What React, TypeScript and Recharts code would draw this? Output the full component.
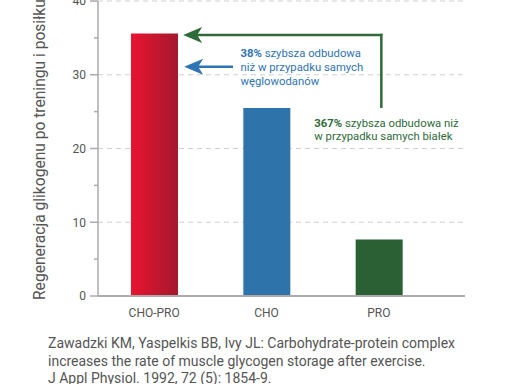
import React from 'react';
import { BarChart, Bar, XAxis, YAxis, CartesianGrid, Cell, ReferenceLine, Label } from 'recharts';

const categories = ['CHO-PRO', 'CHO', 'PRO'];
const values = [35.6, 25.5, 7.65];
const barColors = ['url(#choProGrad)', '#2e73aa', '#2a6034'];
const yTicks = [0, 5, 10, 15, 20, 25, 30, 35, 40];
const gridValues = [10, 20, 30, 40];
const greenArrowY = 35.4;
const greenArrowBottom = 25.5;
const blueArrowY = 31.1;
const blueText = [
  ['38%', ' szybsza odbudowa'],
  ['', 'niż w przypadku samych'],
  ['', 'węglowodanów'],
];
const greenText = [
  ['367%', ' szybsza odbudowa niż'],
  ['', 'w przypadku samych białek'],
];
const yLabel = 'Regeneracja glikogenu po treningu i posiłku (μmol/g/h)';
const citation = [
  'Zawadzki KM, Yaspelkis BB, Ivy JL: Carbohydrate-protein complex',
  'increases the rate of muscle glycogen storage after exercise.',
  'J Appl Physiol. 1992, 72 (5): 1854-9.',
];

const data = categories.map((c, i) => ({ name: c, value: values[i] }));

const GREEN = '#2e6b39';
const BLUE = '#2f74b3';
const AXIS = '#ababab';
const TEXT = '#555';
const FONT = 'Roboto, sans-serif';
const TICK_SIZE = 8;
const TICK_MARGIN = 4;

const YTick = (props: any) => {
  const { x, y, payload } = props;
  const major = payload.value % 10 === 0;
  const axisX = x + TICK_MARGIN + TICK_SIZE;
  return (
    <g>
      <line x1={axisX - (major ? TICK_SIZE : 4)} x2={axisX} y1={y} y2={y} stroke={AXIS} strokeWidth={1.5} />
      {major && (
        <text x={x} y={y} dy="0.355em" textAnchor="end" fontSize={12} fill={TEXT} fontFamily={FONT}>
          {payload.value}
        </text>
      )}
    </g>
  );
};

const XTick = (props: any) => {
  const { x, y, payload } = props;
  return (
    <text x={x} y={y} dy="0.71em" textAnchor="middle" fontSize={12} fill={TEXT} fontFamily={FONT}>
      {payload.value}
    </text>
  );
};

const arrowHead = (tip: number, y: number, color: string) => (
  <path d={`M${tip},${y} L${tip + 19},${y - 8} L${tip + 14},${y} L${tip + 19},${y + 8} Z`} fill={color} />
);

const GreenHorizontal = (p: any) => {
  const left = Math.min(p.x1, p.x2);
  const right = Math.max(p.x1, p.x2);
  const y = p.y1;
  const tip = left + 29;
  return (
    <g>
      <line x1={tip + 12} x2={right + 3.5} y1={y} y2={y} stroke={GREEN} strokeWidth={2.5} />
      {arrowHead(tip, y, GREEN)}
    </g>
  );
};

const GreenVertical = (p: any) => {
  const x = p.x1 + 2.5;
  const top = Math.min(p.y1, p.y2);
  const bottom = Math.max(p.y1, p.y2);
  return (
    <g>
      <line x1={x} x2={x} y1={top - 1.2} y2={bottom} stroke={GREEN} strokeWidth={2.5} />
      {greenText.map((l, i) => (
        <text key={i} x={x - 67} y={bottom + 19.5 + i * 13} fontSize={11.3} fill={GREEN} fontFamily={FONT}>
          {l[0] && <tspan fontWeight={700}>{l[0]}</tspan>}
          <tspan>{l[1]}</tspan>
        </text>
      ))}
    </g>
  );
};

const BlueArrow = (p: any) => {
  const left = Math.min(p.x1, p.x2);
  const right = Math.max(p.x1, p.x2);
  const y = p.y1;
  const tip = left + 30;
  return (
    <g>
      <line x1={tip + 12} x2={right - 33.5} y1={y} y2={y} stroke={BLUE} strokeWidth={2.5} />
      {arrowHead(tip, y, BLUE)}
      {blueText.map((l, i) => (
        <text key={i} x={right - 26} y={y - 9.5 + i * 14} fontSize={11.3} fill={BLUE} fontFamily={FONT}>
          {l[0] && <tspan fontWeight={700}>{l[0]}</tspan>}
          <tspan>{l[1]}</tspan>
        </text>
      ))}
    </g>
  );
};

const YLabel = (props: any) => {
  const vb = props.viewBox;
  const x = vb.x + 44.5;
  const y = vb.y + vb.height + 4;
  return (
    <text x={x} y={y} transform={`rotate(-90 ${x} ${y})`} textAnchor="start" fontSize={15.6} fill={TEXT} fontFamily={FONT}>
      {yLabel}
    </text>
  );
};

export default function App() {
  return (
    <div style={{ position: 'absolute', left: 0, top: 0, width: 512, height: 384, overflow: 'hidden', background: '#fff', fontFamily: FONT }}>
      <BarChart width={512} height={326} data={data} margin={{ top: 1, right: 47, left: 0, bottom: 0 }}>
        <defs>
          <linearGradient id="choProGrad" x1="0" y1="0" x2="1" y2="0">
            <stop offset="0%" stopColor="#ea1330" />
            <stop offset="100%" stopColor="#a3192e" />
          </linearGradient>
        </defs>
        <CartesianGrid vertical={false} horizontalValues={gridValues} stroke="#cfcfcf" strokeDasharray="5 4" strokeWidth={1.2} />
        <XAxis
          dataKey="name"
          tickLine={false}
          axisLine={{ stroke: AXIS, strokeWidth: 2 }}
          tick={<XTick />}
          tickMargin={6}
          padding={{ left: 0, right: 30 }}
          height={30}
        />
        <YAxis
          domain={[0, 40]}
          ticks={yTicks}
          interval={0}
          width={98}
          tickLine={false}
          tickSize={TICK_SIZE}
          tickMargin={TICK_MARGIN}
          axisLine={{ stroke: AXIS, strokeWidth: 1.5 }}
          tick={<YTick />}
          label={<Label content={<YLabel />} />}
        />
        <Bar dataKey="value" barSize={47} isAnimationActive={false}>
          {data.map((d, i) => (
            <Cell key={d.name} fill={barColors[i]} />
          ))}
        </Bar>
        <ReferenceLine
          segment={[{ x: 'CHO-PRO', y: greenArrowY }, { x: 'PRO', y: greenArrowY }]}
          shape={GreenHorizontal}
        />
        <ReferenceLine
          segment={[{ x: 'PRO', y: greenArrowY }, { x: 'PRO', y: greenArrowBottom }]}
          shape={GreenVertical}
        />
        <ReferenceLine
          segment={[{ x: 'CHO-PRO', y: blueArrowY }, { x: 'CHO', y: blueArrowY }]}
          shape={BlueArrow}
        />
      </BarChart>
      <div style={{ position: 'absolute', left: 48, top: 335, fontSize: 14, lineHeight: '17.5px', color: TEXT, whiteSpace: 'nowrap' }}>
        {citation.map((c, i) => (
          <div key={i}>{c}</div>
        ))}
      </div>
    </div>
  );
}
